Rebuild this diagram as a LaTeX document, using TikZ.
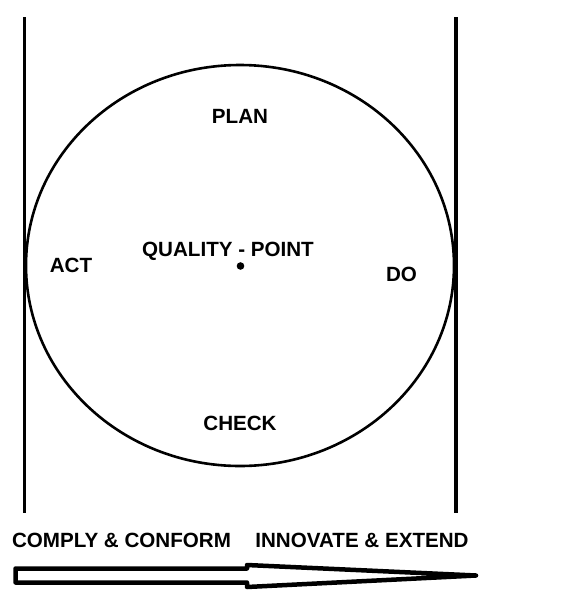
\documentclass[tikz,border=0pt]{standalone}
\usepackage{fontspec}
\setmainfont{Liberation Sans}
\usetikzlibrary{shapes.geometric}
\begin{document}
\begin{tikzpicture}[x=1pt,y=-1pt,
  lbl/.style={font=\fontsize{20.6}{24}\selectfont\bfseries, inner sep=0pt, anchor=base},
  vline/.style={line width=3.5pt},
  ring/.style={line width=2.6pt},
  bigarrow/.style={line width=4.5pt, line join=round}]
\useasboundingbox (0,0) rectangle (569,606);
% vertical bounds
\coordinate (l1) at (24.5,17);
\coordinate (l2) at (24.5,513);
\coordinate (r1) at (456,17);
\coordinate (r2) at (456,513);
\draw[vline] (l1) -- (l2);
\draw[vline] (r1) -- (r2);
% circle
\coordinate (qc) at (240,265.5);
\draw[ring] (qc) ellipse [x radius=214, y radius=200.5];
% centre point
\fill (240.5,266) circle [radius=3.8];
% labels
\node[lbl] (plan) at (240,123) {PLAN};
\node[lbl] (qp) at (228,256) {QUALITY - POINT};
\node[lbl] (act) at (71,272.7) {ACT};
\node[lbl] (do) at (401.5,281) {DO};
\node[lbl] (check) at (240,430.7) {CHECK};
\node[lbl] (comply) at (121.5,547) {COMPLY \& CONFORM};
\node[lbl] (innov) at (362,547) {INNOVATE \& EXTEND};
% arrow
\draw[bigarrow] (15.5,568.5) -- (247,568.5) -- (247,565) -- (476,575.5) -- (247,587) -- (247,582.5) -- (15.5,582.5) -- cycle;
\end{tikzpicture}
\end{document}
